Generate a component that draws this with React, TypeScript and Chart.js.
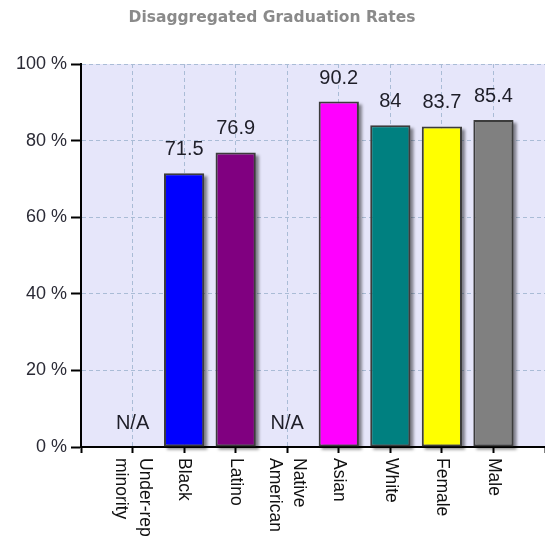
import React, { useEffect, useRef } from 'react';
import { Chart, registerables } from 'chart.js';

Chart.register(...registerables);

const chartTitle = 'Disaggregated Graduation Rates';
const categories = ['Under-rep minority', 'Black', 'Latino', 'Native American', 'Asian', 'White', 'Female', 'Male'];
const categoryLines = [['Under-rep', 'minority'], ['Black'], ['Latino'], ['Native', 'American'], ['Asian'], ['White'], ['Female'], ['Male']];
const rates: (number | null)[] = [null, 71.5, 76.9, null, 90.2, 84, 83.7, 85.4];
const rateLabels = ['N/A', '71.5', '76.9', 'N/A', '90.2', '84', '83.7', '85.4'];
const barColors = ['#808080', '#0000FF', '#800080', '#808080', '#FF00FF', '#008080', '#FFFF00', '#808080'];
const yTickValues = [0, 20, 40, 60, 80, 100];

const W = 545;
const H = 553;

const decor = {
  id: 'decor',
  beforeDraw(chart: any) {
    const { ctx, chartArea: a } = chart;
    ctx.save();
    ctx.fillStyle = '#E6E6FA';
    ctx.fillRect(a.left, a.top, a.right - a.left, a.bottom - a.top);
    ctx.font = 'bold 15.5px "DejaVu Sans"';
    ctx.fillStyle = '#8a8a8a';
    ctx.textAlign = 'center';
    ctx.textBaseline = 'middle';
    ctx.fillText(chartTitle, 272, 18);
    ctx.restore();
  },
  beforeDatasetsDraw(chart: any) {
    const { ctx } = chart;
    const meta = chart.getDatasetMeta(0);
    ctx.save();
    ctx.fillStyle = 'rgba(0,0,0,0.45)';
    ctx.filter = 'blur(1.5px)';
    meta.data.forEach((bar: any, i: number) => {
      const v = chart.data.datasets[0].data[i];
      if (v === null || v === undefined) return;
      const { x, y, base, width } = bar.getProps(['x', 'y', 'base', 'width'], true);
      ctx.fillRect(x - width / 2 + 3, y + 3, width, base - y);
    });
    ctx.restore();
  },
  afterDatasetsDraw(chart: any) {
    const { ctx } = chart;
    const xs = chart.scales.x;
    const ys = chart.scales.y;
    ctx.save();
    ctx.font = '20px "Liberation Sans"';
    ctx.fillStyle = '#1e1e28';
    ctx.textAlign = 'center';
    ctx.textBaseline = 'alphabetic';
    categories.forEach((_, i) => {
      const x = xs.getPixelForValue(i + 1);
      const v = rates[i];
      const y = ys.getPixelForValue(v === null ? 0 : v) - 18;
      ctx.fillText(rateLabels[i], x, y);
    });
    ctx.restore();
  },
  afterDraw(chart: any) {
    const { ctx, chartArea: a } = chart;
    const xs = chart.scales.x;
    ctx.save();
    ctx.font = '17.5px "Liberation Sans"';
    ctx.fillStyle = '#111';
    ctx.textAlign = 'left';
    ctx.textBaseline = 'middle';
    categoryLines.forEach((lines, i) => {
      const x = xs.getPixelForValue(i + 1);
      ctx.save();
      ctx.translate(x, a.bottom + 11);
      ctx.rotate(Math.PI / 2);
      const lh = 24;
      lines.forEach((ln, j) => {
        ctx.fillText(ln, 0, (j - (lines.length - 1) / 2) * lh);
      });
      ctx.restore();
    });
    ctx.restore();
  },
};

export default function App() {
  const ref = useRef<HTMLCanvasElement | null>(null);
  useEffect(() => {
    if (!ref.current) return;
    const chart = new Chart(ref.current, {
      type: 'bar',
      data: {
        labels: ['', ...categories, ''],
        datasets: [
          {
            data: [null, ...rates, null],
            backgroundColor: ['#808080', ...barColors, '#808080'],
            borderColor: '#3c3c3c',
            borderWidth: 2,
            borderSkipped: false,
            barPercentage: 0.78,
            categoryPercentage: 1,
          },
        ],
      },
      options: {
        responsive: false,
        animation: false,
        devicePixelRatio: 1,
        layout: { padding: { top: 64, left: 0, right: 0, bottom: 0 } },
        plugins: {
          legend: { display: false },
          title: { display: false },
          tooltip: { enabled: false },
        },
        scales: {
          x: {
            type: 'category',
            offset: false,
            afterFit: (s: any) => {
              s.height = 106;
            },
            ticks: { display: false },
            grid: {
              offset: false,
              color: '#aabcd6',
              lineWidth: 1,
              drawTicks: true,
              tickLength: 6,
              tickColor: '#000',
              tickWidth: 2,
            },
            border: { display: true, color: '#000', width: 2, dash: [4, 3] },
          },
          y: {
            min: 0,
            max: 100,
            afterFit: (s: any) => {
              s.width = 81;
            },
            afterBuildTicks: (s: any) => {
              s.ticks = yTickValues.map((v) => ({ value: v }));
            },
            ticks: {
              callback: (v: any) => `${v} %`,
              font: { family: '"Liberation Sans"', size: 18 },
              color: '#2a2a35',
              padding: 4,
            },
            grid: {
              color: '#aabcd6',
              lineWidth: 1,
              drawTicks: true,
              tickLength: 10,
              tickColor: '#000',
              tickWidth: 2,
            },
            border: { display: true, color: '#000', width: 2, dash: [4, 3] },
          },
        },
      },
      plugins: [decor],
    });
    return () => chart.destroy();
  }, []);
  return (
    <div style={{ position: 'fixed', left: 0, top: 0, width: W, height: H, background: '#fff' }}>
      <canvas ref={ref} width={W} height={H} style={{ display: 'block' }} />
    </div>
  );
}
